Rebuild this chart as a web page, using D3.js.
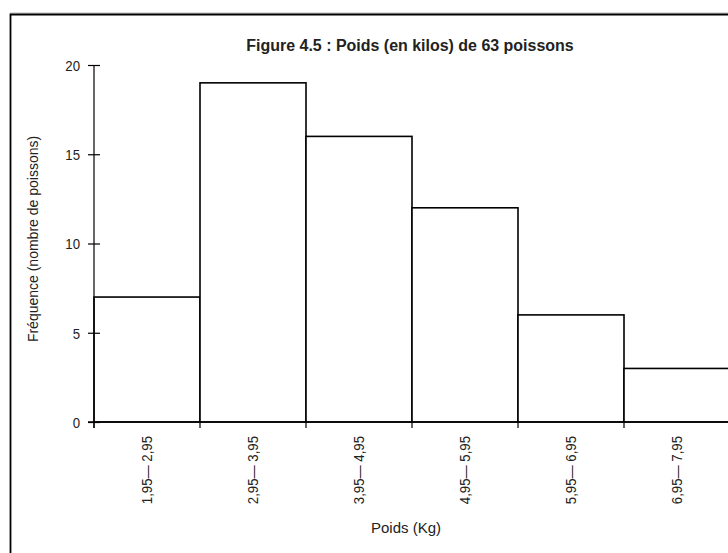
<!DOCTYPE html>
<html><head><meta charset="utf-8">
<script src="https://cdn.jsdelivr.net/npm/d3@7"></script>
<style>
body{margin:0;background:#fff;}
svg text{font-family:"Liberation Sans Narrow","Arial Narrow","Liberation Sans",Arial,sans-serif;fill:#222;}
</style></head>
<body><svg id="c" width="728" height="553"></svg>
<script>
const binEdges = [1.95, 2.95, 3.95, 4.95, 5.95, 6.95, 7.95];
const categories = ["1,95— 2,95","2,95— 3,95","3,95— 4,95","4,95— 5,95","5,95— 6,95","6,95— 7,95"];
const frequencies = [7, 19, 16, 12, 6, 3];
const yTicks = [0, 5, 10, 15, 20];
const title = "Figure 4.5 : Poids (en kilos) de 63 poissons";
const xTitle = "Poids (Kg)";
const yTitle = "Fréquence (nombre de poissons)";

const svg = d3.select("#c");
// frame
svg.append("line").attr("x1",10).attr("x2",728).attr("y1",13).attr("y2",13).attr("stroke","#bbb").attr("stroke-width",1);
svg.append("path").attr("d","M10.5,553 V14.5 H728").attr("fill","none").attr("stroke","#000").attr("stroke-width",1.8);

const x = d3.scaleLinear().domain([1.95, 7.95]).range([94, 730]);
const y = d3.scaleLinear().domain([0, 20]).range([422, 65]);

// bars
const bars = frequencies.map((f,i)=>({x0:binEdges[i], x1:binEdges[i+1], f}));
svg.append("g").selectAll("rect").data(bars).join("rect")
  .attr("x", d=>x(d.x0)).attr("width", d=>x(d.x1)-x(d.x0))
  .attr("y", d=>y(d.f)).attr("height", d=>y(0)-y(d.f))
  .attr("fill","#fff").attr("stroke","#000").attr("stroke-width",1.6);

// y axis
const yAxis = d3.axisLeft(y).tickValues(yTicks).tickSize(6).tickPadding(8).tickFormat(d3.format("d"));
const gy = svg.append("g").attr("transform","translate(94,0)").call(yAxis);
gy.select(".domain").remove();
gy.append("line").attr("x1",0).attr("x2",0).attr("y1",y(20)).attr("y2",428).attr("stroke","#000").attr("stroke-width",1.2);
gy.selectAll(".tick line").attr("x1",-6).attr("x2",6).attr("stroke","#000").attr("stroke-width",1.2);
gy.selectAll(".tick text")
  .attr("font-size",15).attr("fill","#222").attr("font-family",null)
  .attr("x",null).attr("dy","0.35em")
  .attr("transform","translate(-14,0) scale(0.88,1)");

// x axis
const gx = svg.append("g").attr("transform","translate(0,422)");
gx.append("line").attr("x1",88).attr("x2",728).attr("stroke","#000").attr("stroke-width",1.6);
gx.selectAll(".xt").data(binEdges).join("line").attr("class","xt")
  .attr("x1",d=>x(d)).attr("x2",d=>x(d)).attr("y1",0).attr("y2",6)
  .attr("stroke","#000").attr("stroke-width",1.2);
gx.selectAll(".xl").data(categories).join("text").attr("class","xl")
  .attr("transform",(d,i)=>`translate(${(x(binEdges[i])+x(binEdges[i+1]))/2+5},14) rotate(-90) scale(0.88,1)`)
  .attr("text-anchor","end").attr("font-size",15).text(d=>d);

// titles
svg.append("text").attr("transform","translate(410,51) scale(0.94,1)").attr("text-anchor","middle")
  .attr("font-size",17).attr("font-weight","bold").text(title);
svg.append("text").attr("x",406).attr("y",533).attr("text-anchor","middle")
  .attr("font-size",15).text(xTitle);
svg.append("text").attr("transform","translate(38,239) rotate(-90)").attr("text-anchor","middle")
  .attr("font-size",14).text(yTitle);
</script></body></html>
